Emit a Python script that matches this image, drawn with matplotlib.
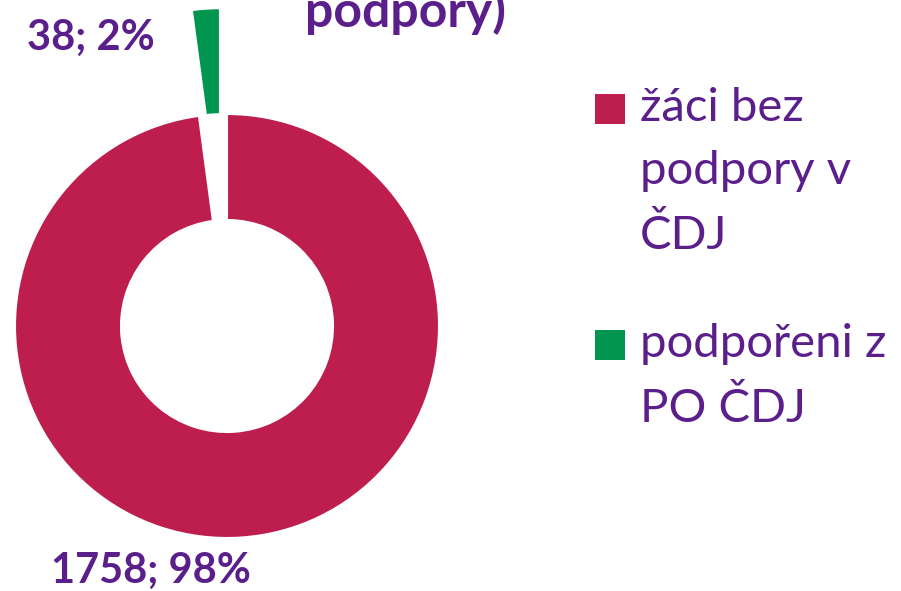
import matplotlib.pyplot as plt
from matplotlib.patches import Rectangle

# data
categories = ["žáci bez\npodpory v\nČDJ", "podpořeni z\nPO ČDJ"]
counts = [1758, 38]
percents = [98, 2]
colors = ["#BE1E4D", "#00964F"]
purple = "#5B1F8C"
title_tail = "podpory)"

plt.rcParams['font.family'] = ['Lato', 'DejaVu Sans']

W, H = 901, 591
fig = plt.figure(figsize=(W / 100, H / 100), dpi=100)

# 1 data unit = R px, pie center at (cx, cy) px from top-left
R = 212
cx, cy = 227, 326
ax = fig.add_axes([0, 0, 1, 1])

wedges, _ = ax.pie(counts, colors=colors, startangle=90, counterclock=False,
                   explode=[0, 0.5], radius=1,
                   wedgeprops=dict(width=0.5, edgecolor='white', linewidth=1.5))
ax.set_aspect('auto')
ax.set_xlim(-cx / R, (W - cx) / R)
ax.set_ylim(-(H - cy) / R, cy / R)
ax.axis('off')

# data labels
lab_pos = [(-0.36, -1.155), (-0.64, 1.36)]
for (x, y), n, p in zip(lab_pos, counts, percents):
    ax.text(x, y, f"{n}; {p}%", ha='center', va='center', fontsize=30,
            fontweight='bold', color=purple)

# title, cut off at the top of the image (as in the source)
fig.text(405 / W, 1 - 27 / H, title_tail, ha='center', va='baseline',
         fontsize=36, fontweight='bold', color=purple)

# legend drawn by hand
leg_y = [109, 345]
for y, lab, c in zip(leg_y, categories, colors):
    fig.patches.append(Rectangle((595 / W, 1 - (y + 15) / H), 30 / W, 30 / H,
                                 transform=fig.transFigure, facecolor=c,
                                 edgecolor='none'))
    fig.text(640 / W, 1 - (y - 22) / H, lab, ha='left', va='top',
             fontsize=34, color=purple, linespacing=1.63)

fig.savefig("out.png", dpi=100)
